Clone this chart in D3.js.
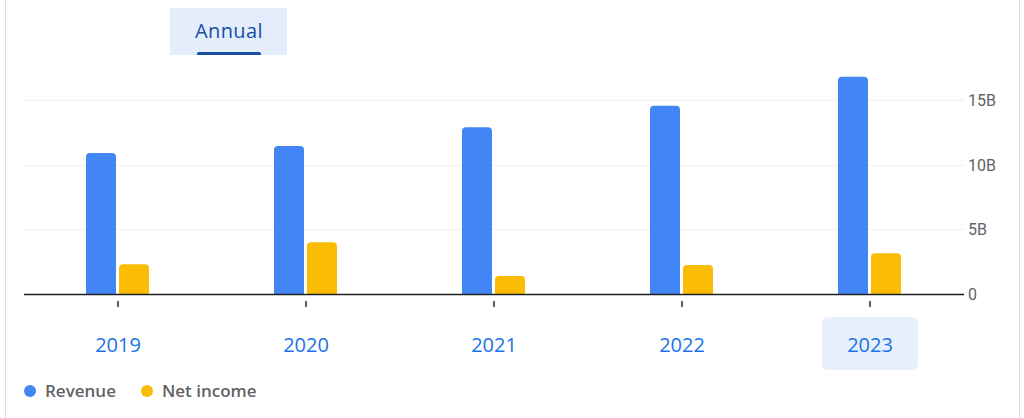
<!DOCTYPE html>
<html lang="en">
<head>
    <meta charset="utf-8">
    <title>Revenue and net income, annual</title>
    <script src="https://d3js.org/d3.v7.min.js"></script>
    <style>
        body { margin: 0; background: #fff; }
        svg { display: block; font-family: Roboto, "Noto Sans", sans-serif; }
        .wide { font-family: "Open Sans", Roboto, sans-serif; }
    </style>
</head>
<body>
<script>
    // values in billions
    var years = ["2019", "2020", "2021", "2022", "2023"];
    var revenue = [10.9, 11.45, 12.9, 14.55, 16.8];
    var netIncome = [2.3, 4.0, 1.4, 2.25, 3.15];
    var tickValues = [0, 5, 10, 15];
    var tickLabels = ["0", "5B", "10B", "15B"];
    var seriesNames = ["Revenue", "Net income"];
    var seriesColors = ["#4285f4", "#fbbc04"];

    var width = 1024, height = 418;
    var left = 24, right = 964, baseY = 294;

    var svg = d3.select("body").append("svg")
        .attr("width", width)
        .attr("height", height);

    // card borders
    svg.append("line").attr("x1", 5.5).attr("x2", 5.5).attr("y1", 0).attr("y2", height)
        .style("stroke", "#dadce0");
    svg.append("line").attr("x1", 1019.5).attr("x2", 1019.5).attr("y1", 0).attr("y2", height)
        .style("stroke", "#dadce0");

    // Annual tab
    svg.append("rect").attr("x", 170).attr("y", 8).attr("width", 117).attr("height", 47)
        .style("fill", "#e3edfc");
    svg.append("text").attr("class", "wide")
        .attr("x", 229).attr("y", 38)
        .attr("text-anchor", "middle")
        .attr("font-size", 20)
        .attr("font-weight", 500)
        .attr("letter-spacing", 0.4)
        .attr("fill", "#174ea6")
        .text("Annual");
    svg.append("path")
        .attr("d", "M197,55 L197,54 Q197,52 199,52 L259,52 Q261,52 261,54 L261,55 Z")
        .style("fill", "#174ea6");

    var x = d3.scaleBand().domain(years).range([left, right]);
    var y = d3.scaleLinear().domain([0, 15]).range([baseY, 100]);

    // gridlines
    svg.append("g").selectAll("line")
        .data(tickValues.slice(1))
        .enter().append("line")
        .attr("x1", left).attr("x2", right)
        .attr("y1", function(d) { return Math.round(y(d)) + 0.5; })
        .attr("y2", function(d) { return Math.round(y(d)) + 0.5; })
        .style("stroke", "#f1f3f4")
        .style("stroke-width", 1.5);

    // y tick labels on the right
    svg.append("g").selectAll("text")
        .data(tickValues)
        .enter().append("text")
        .attr("x", 968)
        .attr("y", function(d) { return y(d) + 6; })
        .attr("font-size", 16)
        .attr("fill", "#5f6368")
        .text(function(d, i) { return tickLabels[i]; });

    // bars with rounded tops
    var barW = 30, rr = 4;
    function barPath(x0, top) {
        var h = baseY - top;
        var r = Math.min(rr, h);
        return "M" + x0 + "," + baseY +
            "L" + x0 + "," + (top + r) +
            "Q" + x0 + "," + top + " " + (x0 + r) + "," + top +
            "L" + (x0 + barW - r) + "," + top +
            "Q" + (x0 + barW) + "," + top + " " + (x0 + barW) + "," + (top + r) +
            "L" + (x0 + barW) + "," + baseY + "Z";
    }

    var series = [revenue, netIncome];
    series.forEach(function(vals, s) {
        svg.append("g").selectAll("path")
            .data(years)
            .enter().append("path")
            .attr("d", function(d, i) {
                var cx = x(d) + x.bandwidth() / 2;
                var x0 = s === 0 ? cx - 32 : cx + 1;
                return barPath(x0, y(vals[i]));
            })
            .style("fill", seriesColors[s]);
    });

    // baseline
    svg.append("line").attr("x1", left).attr("x2", right)
        .attr("y1", baseY + 0.5).attr("y2", baseY + 0.5)
        .style("stroke", "#202124").style("stroke-width", 1.5);

    // small ticks under each year
    svg.append("g").selectAll("rect")
        .data(years)
        .enter().append("rect")
        .attr("x", function(d) { return x(d) + x.bandwidth() / 2 - 1; })
        .attr("y", 301)
        .attr("width", 2).attr("height", 6)
        .style("fill", "#5f6368");

    // selected year highlight
    var sel = "2023";
    svg.append("rect")
        .attr("x", x(sel) + x.bandwidth() / 2 - 48)
        .attr("y", 317).attr("width", 96).attr("height", 53)
        .attr("rx", 6)
        .style("fill", "#e8f0fe");

    svg.append("g").selectAll("text")
        .data(years)
        .enter().append("text")
        .attr("class", "wide")
        .attr("x", function(d) { return x(d) + x.bandwidth() / 2; })
        .attr("y", 352)
        .attr("text-anchor", "middle")
        .attr("font-size", 20)
        .attr("font-weight", 500)
        .attr("fill", "#1a73e8")
        .text(function(d) { return d; });

    // legend
    var legendX = [30, 147];
    var legend = svg.append("g").selectAll("g")
        .data(seriesNames)
        .enter().append("g")
        .attr("transform", function(d, i) { return "translate(" + legendX[i] + ",391)"; });
    legend.append("circle").attr("r", 6)
        .style("fill", function(d, i) { return seriesColors[i]; });
    legend.append("text")
        .attr("class", "wide")
        .attr("x", 15).attr("y", 6)
        .attr("font-size", 17)
        .attr("font-weight", 600)
        .attr("fill", "#5f6368")
        .text(function(d) { return d; });
</script>
</body>
</html>
